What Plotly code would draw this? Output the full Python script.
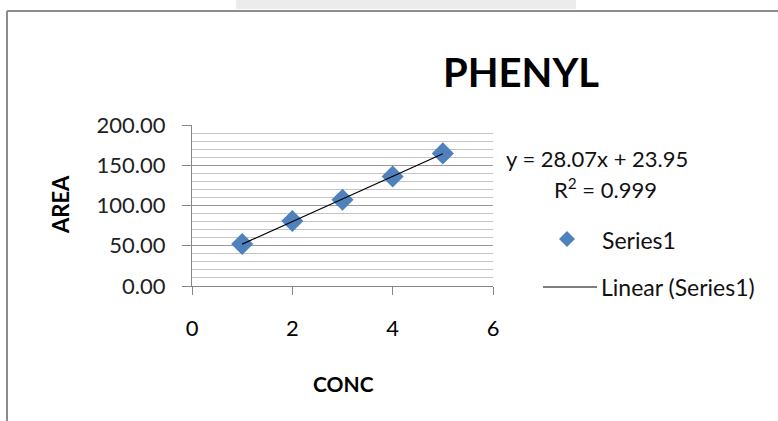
import plotly.graph_objects as go

# Calibration data
conc = [1, 2, 3, 4, 5]
area = [52.1, 80.7, 107.2, 136.1, 164.7]

# Linear trendline coefficients shown on the chart
slope = 28.07
intercept = 23.95
r_squared = 0.999
trend_x = [min(conc), max(conc)]
trend_y = [slope * x + intercept for x in trend_x]

x_ticks = [0, 2, 4, 6]
y_ticks = [0, 50, 100, 150, 200]

W, H = 778, 421
L, R, T, B = 192, 493, 125, 286  # plot area in pixels


def px(x):
    return (x - L) / (R - L)


def py(y):
    return (B - y) / (B - T)


FONT = "Lato"
BLUE = "#4F81BD"
INK = "#111111"

fig = go.Figure()
fig.add_trace(go.Scatter(
    x=conc, y=area, mode="markers",
    marker=dict(symbol="diamond", size=17, color=BLUE),
    showlegend=False, cliponaxis=False,
))
fig.add_trace(go.Scatter(
    x=trend_x, y=trend_y, mode="lines",
    line=dict(color="#000000", width=1.2),
    showlegend=False,
))

shapes = [
    # outer chart frame
    dict(type="line", xref="paper", yref="paper",
         x0=px(7), x1=px(7), y0=py(11), y1=py(H + 5),
         line=dict(color="#8c8c8c", width=2)),
    dict(type="line", xref="paper", yref="paper",
         x0=px(7), x1=px(W + 5), y0=py(11), y1=py(11),
         line=dict(color="#8c8c8c", width=2)),
    # light bar at the very top
    dict(type="rect", xref="paper", yref="paper",
         x0=px(236), x1=px(576), y0=py(0), y1=py(9),
         fillcolor="#ececec", line=dict(width=0), layer="below"),
    # legend line sample
    dict(type="line", xref="paper", yref="paper",
         x0=px(543), x1=px(597), y0=py(287), y1=py(287),
         line=dict(color="#000000", width=1.2)),
    # legend diamond sample
    dict(type="path", xref="paper", yref="paper",
         xsizemode="pixel", ysizemode="pixel",
         xanchor=px(567), yanchor=py(239),
         path="M 0 8 L 8 0 L 0 -8 L -8 0 Z",
         fillcolor=BLUE, line=dict(width=0)),
]

annotations = [
    dict(text="<b>PHENYL</b>", x=px(521), y=py(72), xref="paper", yref="paper",
         showarrow=False, font=dict(family=FONT, size=40, color="#000000"),
         xanchor="center", yanchor="middle"),
    dict(text=f"y = {slope:.2f}x + {intercept:.2f}", x=px(504), y=py(158),
         xref="paper", yref="paper", showarrow=False,
         font=dict(family=FONT, size=22, color=INK),
         xanchor="left", yanchor="middle"),
    dict(text=f"R<sup>2</sup> = {r_squared:.3f}", x=px(552), y=py(188),
         xref="paper", yref="paper", showarrow=False,
         font=dict(family=FONT, size=22, color=INK),
         xanchor="left", yanchor="middle"),
    dict(text="Series1", x=px(600), y=py(240), xref="paper", yref="paper",
         showarrow=False, font=dict(family=FONT, size=23, color=INK),
         xanchor="left", yanchor="middle"),
    dict(text="Linear (Series1)", x=px(599), y=py(287), xref="paper", yref="paper",
         showarrow=False, font=dict(family=FONT, size=23, color=INK),
         xanchor="left", yanchor="middle"),
    dict(text="<b>AREA</b>", x=px(60), y=py(205), xref="paper", yref="paper",
         showarrow=False, textangle=-90,
         font=dict(family=FONT, size=22, color="#000000"),
         xanchor="center", yanchor="middle"),
    dict(text="<b>CONC</b>", x=px(343), y=py(383), xref="paper", yref="paper",
         showarrow=False, font=dict(family=FONT, size=21, color="#000000"),
         xanchor="center", yanchor="middle"),
]

fig.update_layout(
    width=W, height=H,
    margin=dict(l=L, r=W - R, t=T, b=H - B),
    paper_bgcolor="#ffffff", plot_bgcolor="#ffffff",
    font=dict(family=FONT, color="#000000"),
    shapes=shapes, annotations=annotations,
    xaxis=dict(
        range=[0, 6], tickvals=x_ticks, ticktext=[str(v) for v in x_ticks],
        showgrid=False, zeroline=False,
        showline=True, linecolor="#868686", linewidth=1,
        ticks="outside", ticklen=8, tickcolor="#868686",
        ticklabelstandoff=15,
        tickfont=dict(family=FONT, size=22, color="#000000"),
    ),
    yaxis=dict(
        range=[0, 200], tickvals=y_ticks, ticktext=[f"{v:.2f}" for v in y_ticks],
        showgrid=True, gridcolor="#9a9a9a", gridwidth=1, zeroline=False,
        showline=True, linecolor="#868686", linewidth=1,
        ticks="outside", ticklen=9, tickcolor="#868686",
        ticklabelstandoff=12,
        tickfont=dict(family=FONT, size=22, color="#222222"),
        minor=dict(dtick=10, showgrid=True, gridcolor="#c4c4c4", gridwidth=1,
                   ticks=""),
    ),
)

fig.write_html("out.html")
